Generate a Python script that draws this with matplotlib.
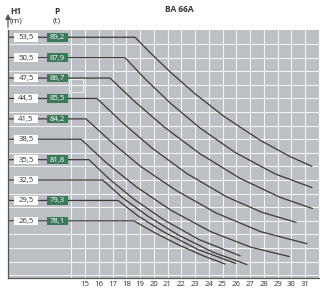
import matplotlib.pyplot as plt
from matplotlib.patches import Rectangle, FancyArrowPatch

# alturas H1 (m) y cargas P (t) de cada fila
alturas = [53.5, 50.5, 47.5, 44.5, 41.5, 38.5, 35.5, 32.5, 29.5, 26.5]
etiquetas_h = ["53,5", "50,5", "47,5", "44,5", "41,5", "38,5", "35,5", "32,5", "29,5", "26,5"]
cargas = ["89,2", "87,9", "86,7", "85,5", "84,2", None, "81,8", None, "79,3", "78,1"]

# curvas: radio R y altura H
R_535 = [18.64, 19.73, 21.18, 23.0, 25.18, 27.73, 29.91, 31.48]
H_535 = [53.5, 51.25, 48.43, 45.19, 41.76, 38.36, 35.96, 34.54]
R_505 = [17.91, 19.36, 21.18, 23.36, 25.91, 28.82, 31.49]
H_505 = [50.5, 47.40, 43.87, 40.16, 36.57, 33.41, 31.41]
R_475 = [16.82, 18.64, 20.82, 23.36, 26.27, 29.18, 31.53]
H_475 = [47.5, 44.0, 40.21, 36.37, 32.76, 29.97, 28.32]
R_445 = [15.87, 17.69, 19.87, 22.42, 25.33, 27.87, 30.35]
H_445 = [44.5, 41.0, 37.21, 33.44, 30.0, 27.76, 26.28]
R_415 = [15.07, 16.89, 19.0, 21.62, 24.53, 27.8, 31.12]
H_415 = [41.5, 38.15, 34.57, 30.99, 27.66, 24.9, 23.15]
R_385 = [14.71, 16.53, 18.71, 21.25, 24.16, 27.07, 29.84]
H_385 = [38.5, 35.07, 31.54, 28.06, 24.9, 22.62, 21.26]
R_355 = [15.29, 16.75, 18.56, 20.75, 23.29, 26.27]
H_355 = [35.5, 32.68, 29.69, 26.63, 23.75, 21.37]
R_325 = [16.29, 17.74, 19.56, 21.74, 24.29, 26.76]
H_325 = [32.5, 29.88, 27.21, 24.47, 21.91, 20.09]
R_295 = [17.4, 18.85, 20.67, 23.22, 25.96]
H_295 = [29.5, 27.24, 24.93, 22.29, 20.24]
R_265 = [18.56, 20.02, 21.84, 23.65, 25.18]
H_265 = [26.5, 24.81, 22.93, 21.32, 20.16]

curvas_R = [R_535, R_505, R_475, R_445, R_415, R_385, R_355, R_325, R_295, R_265]
curvas_H = [H_535, H_505, H_475, H_445, H_415, H_385, H_355, H_325, H_295, H_265]

ticks_x = list(range(15, 32))

fuente = "Open Sans"
gris = "#bcbfc3"
verde = "#3b7a59"
texto = "#333333"

fig = plt.figure(figsize=(3.2, 2.9), dpi=100)
ax = fig.add_axes([0.025, 0.0414, 0.972, 0.8552])
x0, x1 = 9.4, 32.02
y0, y1 = 18.1, 54.57
ax.set_xlim(x0, x1)
ax.set_ylim(y0, y1)
ax.set_facecolor(gris)

# rejilla blanca
for xv in range(14, 33):
    ax.axvline(xv, color="white", lw=0.8, alpha=0.8, zorder=1)
yv = 52.5
while yv > y0:
    ax.axhline(yv, color="white", lw=0.8, alpha=0.8, zorder=1)
    yv -= 2
ax.add_patch(Rectangle((13.85, 45.5), 1.0, 1.9, fill=False, ec="white", lw=0.8, alpha=0.7, zorder=1))

# curvas con su tramo horizontal
for h, rr, hh in zip(alturas, curvas_R, curvas_H):
    ax.plot([x0] + rr, [h] + hh, color="#3a3a3a", lw=0.9, zorder=2)

# cajas de altura y carga
for h, et, c in zip(alturas, etiquetas_h, cargas):
    ax.add_patch(Rectangle((10.71 - 0.87, h - 0.64), 1.74, 1.28, fc="white", ec="none", zorder=3))
    ax.text(10.71, h - 0.05, et, ha="center", va="center", fontsize=5.6, color=texto, family=fuente, zorder=4)
    if c is not None:
        ax.add_patch(Rectangle((13.0 - 0.78, h - 0.64), 1.56, 1.28, fc=verde, ec="none", zorder=3))
        ax.text(13.0, h - 0.05, c, ha="center", va="center", fontsize=5.6, color="white", family=fuente, zorder=4)

ax.set_xticks([])
ax.set_yticks([])
for s in ["top", "right"]:
    ax.spines[s].set_visible(False)
for s in ["left", "bottom"]:
    ax.spines[s].set_color("#555555")
    ax.spines[s].set_linewidth(0.9)

for t in ticks_x:
    ax.text(t, y0 - 0.95, str(t), ha="center", va="center", fontsize=5.6, color=texto, family=fuente)
ax.text(32.25, y0 - 0.95, "R", ha="left", va="center", fontsize=6, color=texto, family=fuente, clip_on=False)

# flecha del eje vertical
fig.patches.append(FancyArrowPatch((8 / 320, 1 - 30 / 290), (8 / 320, 1 - 11 / 290),
                   transform=fig.transFigure, arrowstyle="-|>,head_length=3,head_width=1.5",
                   color="#555555", lw=0.9, mutation_scale=1))

fig.text(16 / 320, 1 - 12 / 290, "H1", ha="center", va="center", fontsize=6, weight="bold", color=texto, family=fuente)
fig.text(16 / 320, 1 - 21 / 290, "(m)", ha="center", va="center", fontsize=6, color=texto, family=fuente)
fig.text(57 / 320, 1 - 12 / 290, "P", ha="center", va="center", fontsize=6, weight="bold", color=texto, family=fuente)
fig.text(57 / 320, 1 - 21 / 290, "(t)", ha="center", va="center", fontsize=6, color=texto, family=fuente)
fig.text(179 / 320, 1 - 9 / 290, "BA 66A", ha="center", va="center", fontsize=6, weight="bold", color=texto, family=fuente)

fig.savefig("out.png", dpi=100)
